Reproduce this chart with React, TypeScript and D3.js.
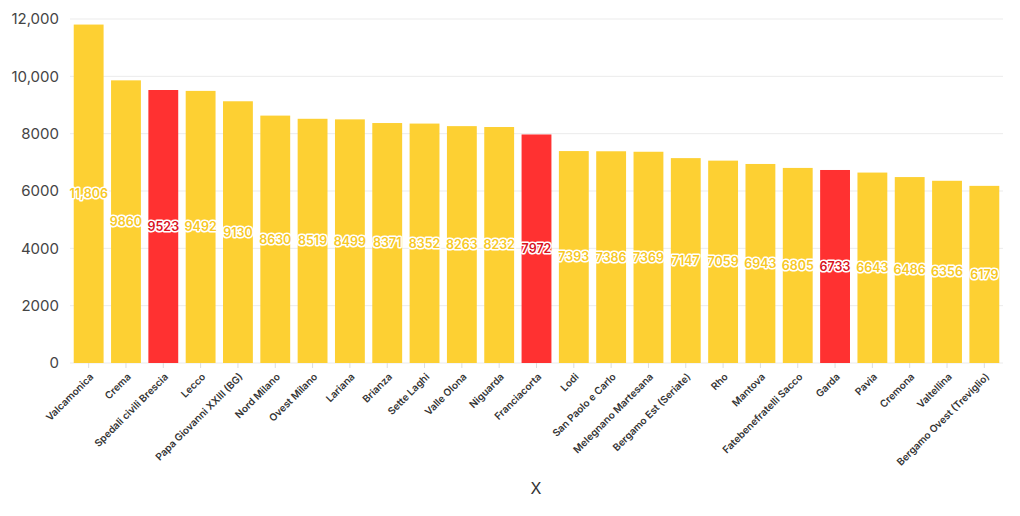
import React from "react";
import * as d3 from "d3";

const categories = [
  "Valcamonica", "Crema", "Spedali civili Brescia", "Lecco", "Papa Giovanni XXIII (BG)",
  "Nord Milano", "Ovest Milano", "Lariana", "Brianza", "Sette Laghi", "Valle Olona",
  "Niguarda", "Franciacorta", "Lodi", "San Paolo e Carlo", "Melegnano Martesana",
  "Bergamo Est (Seriate)", "Rho", "Mantova", "Fatebenefratelli Sacco", "Garda", "Pavia",
  "Cremona", "Valtellina", "Bergamo Ovest (Treviglio)",
];
const values = [11806, 9860, 9523, 9492, 9130, 8630, 8519, 8499, 8371, 8352, 8263, 8232, 7972, 7393, 7386, 7369, 7147, 7059, 6943, 6805, 6733, 6643, 6486, 6356, 6179];
const highlighted = ["Spedali civili Brescia", "Franciacorta", "Garda"];
const yTicks = [0, 2000, 4000, 6000, 8000, 10000, 12000];
const xTitle = "X";

const W = 1020, H = 516;
const left = 70, right = 1003, top = 19, bottom = 363;
const YELLOW = "#fdd033";
const RED = "#ff3131";
const FONT = "Inter, 'Open Sans', sans-serif";

export default function App() {
  const x = d3.scaleBand<string>().domain(categories).range([left, right]).paddingInner(0.2).paddingOuter(0.1);
  const y = d3.scaleLinear().domain([0, 12000]).range([bottom, top]);
  const fmt = (v: number) => (v >= 10000 ? d3.format(",")(v) : String(v));
  return (
    <svg width={W} height={H} style={{ position: "absolute", left: 0, top: 0 }} fontFamily={FONT}>
      <rect width={W} height={H} fill="#fff" />
      {yTicks.map((t) => (
        <g key={t}>
          <line x1={left} x2={right} y1={y(t)} y2={y(t)} stroke="#ebebeb" strokeWidth={1} />
          <text x={59} y={y(t)} dy="0.35em" textAnchor="end" fontSize={15} fill="#444">{fmt(t)}</text>
        </g>
      ))}
      {categories.map((c, i) => {
        const cx = x(c)! + x.bandwidth() / 2;
        return (
          <g key={c}>
            <line x1={cx} x2={cx} y1={bottom} y2={bottom + 5} stroke="#ddd" />
            <rect x={x(c)} y={y(values[i])} width={x.bandwidth()} height={bottom - y(values[i])}
              fill={highlighted.includes(c) ? RED : YELLOW} />
          </g>
        );
      })}
      {categories.map((c, i) => {
        const cx = x(c)! + x.bandwidth() / 2;
        const col = highlighted.includes(c) ? "#d8121f" : "#f7c824";
        return (
          <text key={c} x={cx} y={y(values[i] / 2)} dy="0.35em" textAnchor="middle" fontSize={12.5} fontWeight={600}
            fill={col} stroke="#fff" strokeWidth={3} strokeLinejoin="round"
            style={{ paintOrder: "stroke" }}>{fmt(values[i])}</text>
        );
      })}
      {categories.map((c) => {
        const cx = x(c)! + x.bandwidth() / 2;
        return (
          <text key={c} transform={`translate(${cx + 3},${bottom + 12}) rotate(-45)`} textAnchor="end" dy="0.35em"
            fontSize={10} fontWeight={600} fill="#333">{c}</text>
        );
      })}
      <text x={536} y={488} dy="0.35em" textAnchor="middle" fontSize={16} fill="#333">{xTitle}</text>
    </svg>
  );
}
